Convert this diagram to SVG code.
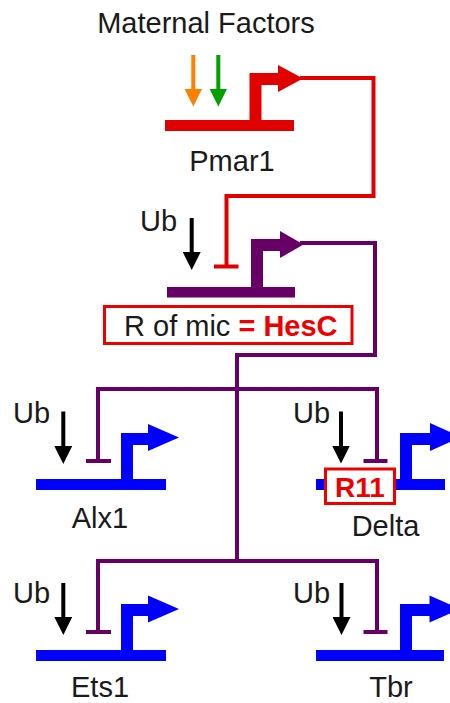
<svg xmlns="http://www.w3.org/2000/svg" width="450" height="703" viewBox="0 0 450 703">
<style>
text{font-family:"Liberation Sans",Arial,sans-serif;font-size:29px;fill:#1a1a1a}
.b{font-weight:bold;fill:#ee0000}
.red{fill:#e00000}
.pur{fill:#660066}
.blu{fill:#0000ff}
.wire{fill:none;stroke-width:4}
.tb{stroke-width:4}
.prom{fill:none;stroke-width:12}
.box{fill:#fff;stroke:#ee0000;stroke-width:3}
</style>
<defs>
<marker id="ahk" markerUnits="userSpaceOnUse" markerWidth="18" markerHeight="18" viewBox="0 0 18 18" refX="2" refY="9" orient="auto"><path d="M0,0 L18,9 L0,18 z" fill="#000"/></marker>
<marker id="aho" markerUnits="userSpaceOnUse" markerWidth="18" markerHeight="18" viewBox="0 0 18 18" refX="2" refY="9" orient="auto"><path d="M0,0 L18,9 L0,18 z" fill="#ff8000"/></marker>
<marker id="ahg" markerUnits="userSpaceOnUse" markerWidth="18" markerHeight="18" viewBox="0 0 18 18" refX="2" refY="9" orient="auto"><path d="M0,0 L18,9 L0,18 z" fill="#00a000"/></marker>
</defs>
<rect width="450" height="703" fill="#fff"/>

<g id="maternal">
<text x="206" y="33" text-anchor="middle">Maternal Factors</text>
</g>

<g id="pmar1">
<rect class="red" x="165" y="120" width="129" height="11"/>
<path class="prom" stroke="#e00000" d="M255.5,126 V79 H280"/>
<path class="red" d="M278,65 L303,78.5 L278,92 z"/>
<text x="232" y="171" text-anchor="middle">Pmar1</text>
</g>

<g id="hesc">
<rect class="pur" x="167" y="287" width="128" height="10.5"/>
<path class="prom" stroke="#660066" d="M257,292 V245 H282"/>
<path class="pur" d="M280,231 L303.5,244.5 L280,258 z"/>
<rect class="box" x="104.5" y="306.5" width="247.5" height="37"/>
<text x="124" y="336">R of mic <tspan class="b">= HesC</tspan></text>
</g>

<g id="alx1">
<rect class="blu" x="36" y="479" width="130" height="11"/>
<path class="prom" stroke="#0000ff" d="M127,484 V439 H150"/>
<path class="blu" d="M148,424 L179,437.5 L148,451 z"/>
<text x="100" y="528" text-anchor="middle">Alx1</text>
</g>

<g id="delta">
<rect class="blu" x="316" y="479" width="129" height="11"/>
<path class="prom" stroke="#0000ff" d="M406,484 V439 H432"/>
<path class="blu" d="M430,423 L461,437 L430,451 z"/>
<rect class="box" x="325.5" y="469" width="69" height="34.5"/>
<text class="b" x="360" y="497" text-anchor="middle" style="font-size:28px">R11</text>
<text x="385.5" y="536" text-anchor="middle">Delta</text>
</g>

<g id="ets1">
<rect class="blu" x="36" y="650" width="130" height="11"/>
<path class="prom" stroke="#0000ff" d="M127,655 V610 H150"/>
<path class="blu" d="M148,595.5 L179,609 L148,622.5 z"/>
<text x="100" y="697" text-anchor="middle">Ets1</text>
</g>

<g id="tbr">
<rect class="blu" x="316" y="650" width="128" height="11"/>
<path class="prom" stroke="#0000ff" d="M406,655 V610 H431"/>
<path class="blu" d="M429.5,595.5 L460,609 L429.5,622.5 z"/>
<text x="391" y="697" text-anchor="middle">Tbr</text>
</g>

<g id="ub-labels">
<text x="140" y="231">Ub</text>
<text x="13" y="423">Ub</text>
<text x="293" y="423">Ub</text>
<text x="13" y="603">Ub</text>
<text x="293" y="603">Ub</text>
</g>

<g id="connectors">
<line x1="193.3" y1="55" x2="193.3" y2="90.5" stroke="#ff8000" stroke-width="4" marker-end="url(#aho)"/>
<line x1="218.3" y1="55" x2="218.3" y2="90.5" stroke="#00a000" stroke-width="4" marker-end="url(#ahg)"/>
<line x1="191.7" y1="218" x2="191.7" y2="254" stroke="#000" stroke-width="4" marker-end="url(#ahk)"/>
<line x1="63.3" y1="411.5" x2="63.3" y2="448" stroke="#000" stroke-width="4" marker-end="url(#ahk)"/>
<line x1="341" y1="411.5" x2="341" y2="447.5" stroke="#000" stroke-width="4" marker-end="url(#ahk)"/>
<line x1="63.3" y1="583" x2="63.3" y2="619" stroke="#000" stroke-width="4" marker-end="url(#ahk)"/>
<line x1="341.5" y1="583" x2="341.5" y2="619" stroke="#000" stroke-width="4" marker-end="url(#ahk)"/>

<path class="wire" stroke="#e00000" d="M300,78 H373.5 V196 H226.5 V266.5"/>
<line class="tb" stroke="#e00000" x1="214" y1="266.5" x2="238.5" y2="266.5"/>

<path class="wire" stroke="#660066" d="M300,243 H375 V355 H237 V561"/>
<path class="wire" stroke="#660066" d="M98,461 V389 H377 V461"/>
<path class="wire" stroke="#660066" d="M98,632 V561 H377 V632"/>
<line class="tb" stroke="#660066" x1="86" y1="461" x2="111" y2="461"/>
<line class="tb" stroke="#660066" x1="363.5" y1="461" x2="387.5" y2="461"/>
<line class="tb" stroke="#660066" x1="86" y1="632" x2="111" y2="632"/>
<line class="tb" stroke="#660066" x1="363.5" y1="632" x2="387.5" y2="632"/>
</g>
</svg>
